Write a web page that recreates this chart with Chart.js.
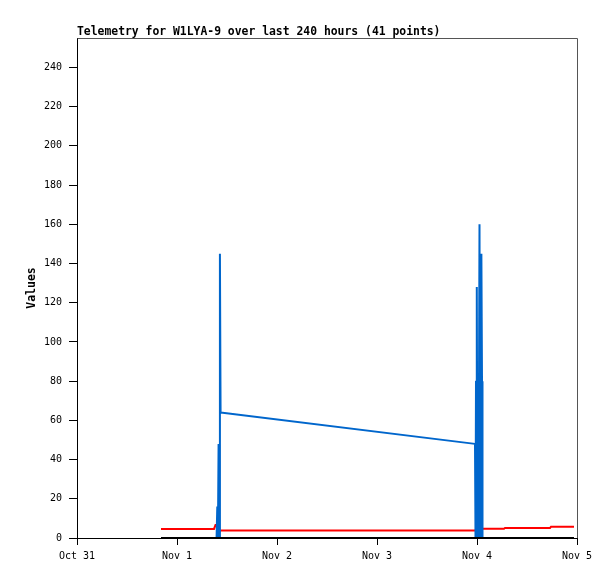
<!DOCTYPE html>
<html>
<head>
<meta charset="utf-8">
<script src="https://cdn.jsdelivr.net/npm/chart.js@4/dist/chart.umd.min.js"></script>
<style>
  html, body { margin: 0; padding: 0; background: #ffffff; }
  canvas { display: block; }
</style>
</head>
<body>
<canvas id="c" width="615" height="579"></canvas>
<script>
// Time axis in hours since Oct 31 00:00
const titleText = "Telemetry for W1LYA-9 over last 240 hours (41 points)";
const yAxisTitle = "Values";
const xTickLabels = ["Oct 31", "Nov 1", "Nov 2", "Nov 3", "Nov 4", "Nov 5"];

const redTimes  = [20.16, 32.88, 33.24, 33.6, 34.08, 95.52, 96.0, 102.48, 102.72, 113.52, 113.76, 119.28];
const redValues = [4.6,   4.6,   6.6,   6.6,  3.8,   3.8,   4.7,  4.7,    5.1,    5.1,    5.8,    5.8];

const blueTimes  = [20.16, 33.50, 33.67, 33.82, 33.98, 34.15, 34.30, 34.46,
                    95.52, 95.64, 95.76, 95.95, 96.10, 96.24, 96.36, 96.60, 96.75, 96.90, 97.05, 97.20, 97.32, 119.28];
const blueValues = [0,     0,     16,    0,     48,    0,     145,   64,
                    48,    0,     80,    128,   0,     80,    0,     160,   0,     80,    145,   80,    0,     0];

const blackTimes  = [20.16, 119.28];
const blackValues = [0, 0];

function pts(t, v) { return t.map((x, i) => ({ x: x, y: v[i] })); }

const monoFamily = '"DejaVu Sans Mono", "Liberation Mono", monospace';

const bgPlugin = {
  id: 'bg',
  beforeDraw(chart) {
    const ctx = chart.ctx;
    ctx.save();
    ctx.fillStyle = '#ffffff';
    ctx.fillRect(0, 0, chart.width, chart.height);
    ctx.restore();
  }
};

const framePlugin = {
  id: 'frame',
  afterDraw(chart) {
    const a = chart.chartArea;
    const ctx = chart.ctx;
    ctx.save();
    ctx.lineWidth = 1;
    ctx.strokeStyle = '#555555';
    ctx.beginPath();
    ctx.moveTo(a.left + 0.5, a.top + 0.5);
    ctx.lineTo(a.right + 0.5, a.top + 0.5);
    ctx.lineTo(a.right + 0.5, a.bottom);
    ctx.stroke();
    ctx.fillStyle = '#000000';
    ctx.font = 'bold 11.4px ' + monoFamily;
    ctx.textBaseline = 'alphabetic';
    ctx.textAlign = 'left';
    ctx.fillText(titleText, a.left, 35);
    ctx.restore();
  }
};

new Chart(document.getElementById('c'), {
  type: 'line',
  data: {
    datasets: [
      { label: 'black', data: pts(blackTimes, blackValues), borderColor: '#000000', borderWidth: 2, pointRadius: 0, clip: false },
      { label: 'blue',  data: pts(blueTimes, blueValues),  borderColor: '#0066cc', borderWidth: 2, pointRadius: 0, clip: false, borderJoinStyle: 'bevel' },
      { label: 'red',   data: pts(redTimes, redValues),    borderColor: '#ff0000', borderWidth: 2, pointRadius: 0, clip: false }
    ]
  },
  options: {
    responsive: false,
    animation: false,
    layout: { padding: { left: 0, right: 38, top: 38, bottom: 0 } },
    plugins: { legend: { display: false }, tooltip: { enabled: false }, title: { display: false } },
    elements: { line: { tension: 0, borderCapStyle: 'butt' } },
    scales: {
      x: {
        type: 'linear',
        min: 0, max: 120,
        afterFit(s) { s.height = 41; },
        grid: { drawOnChartArea: false, drawTicks: true, tickLength: 7, color: '#000000' },
        border: { display: true, color: '#000000', width: 1 },
        ticks: {
          stepSize: 24, autoSkip: false, maxRotation: 0, minRotation: 0, padding: 5,
          color: '#000000',
          font: { family: monoFamily, size: 10 },
          callback: (v) => xTickLabels[Math.round(v / 24)]
        }
      },
      y: {
        type: 'linear',
        min: 0, max: 255,
        afterFit(s) { s.width = 77; },
        grid: { drawOnChartArea: false, drawTicks: true, tickLength: 8, color: '#000000' },
        border: { display: true, color: '#000000', width: 1 },
        ticks: {
          stepSize: 20, includeBounds: false, padding: 7,
          color: '#000000',
          font: { family: monoFamily, size: 10 }
        },
        title: {
          display: true, text: yAxisTitle, color: '#000000',
          font: { family: monoFamily, size: 11.5, weight: 'bold' },
          padding: { top: 25, bottom: 0 }
        }
      }
    }
  },
  plugins: [bgPlugin, framePlugin]
});
</script>
</body>
</html>
